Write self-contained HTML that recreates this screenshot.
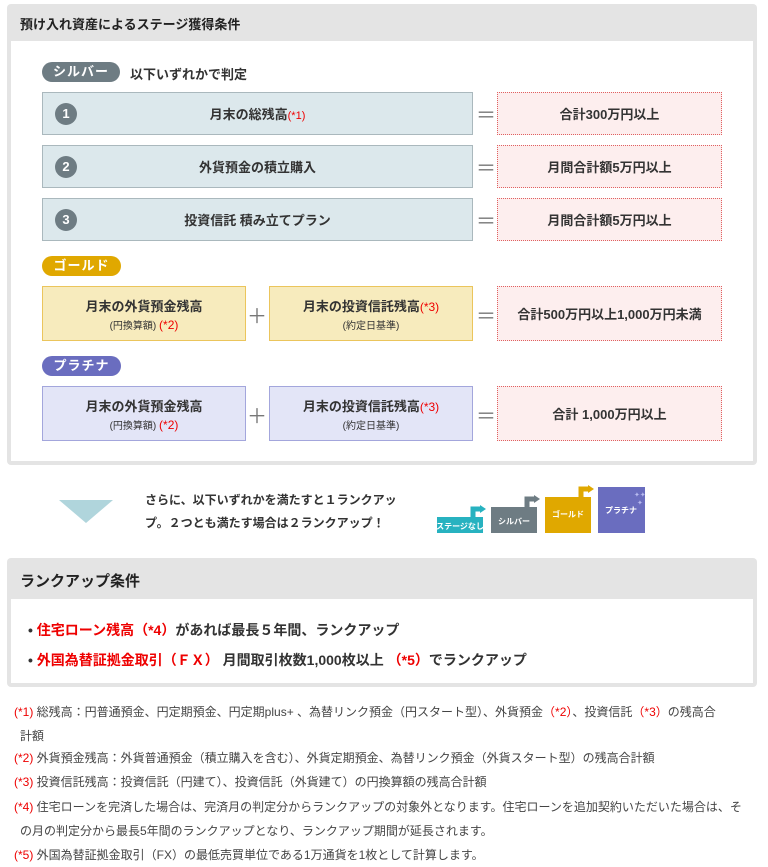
<!DOCTYPE html>
<html><head><meta charset="utf-8"><style>
*{margin:0;padding:0;box-sizing:border-box}
body{width:768px;height:864px;background:#fff;font-family:"Liberation Sans","Noto Sans CJK JP",sans-serif;color:#333;position:relative;overflow:hidden}
.a{position:absolute}
.panel{position:absolute;background:#e4e4e4;border-radius:4px}
.inner{position:absolute;background:#fff}
.pill{position:absolute;height:20px;border-radius:10px;color:#fff;font-size:13px;font-weight:bold;text-align:center;line-height:20px;letter-spacing:1px}
.box{position:absolute;display:flex;align-items:center;justify-content:center;flex-direction:column;font-size:13px;font-weight:bold;color:#333;text-align:center}
.s{background:#dce8ec;border:1px solid #aab8bd}
.g{background:#f7ebbd;border:1px solid #ebc55c}
.p{background:#e3e5f7;border:1px solid #a3a6dc}
.r{background:#fdeeee;border:1px dotted #e06060}
.num{position:absolute;left:12px;top:50%;margin-top:-11px;width:22px;height:22px;border-radius:11px;background:#6e7c83;color:#fff;font-size:13px;line-height:22px;text-align:center}
.red{color:#e00;font-weight:normal}
.sm{font-size:10px;font-weight:normal;margin-top:2px}
.op{position:absolute;font-size:20px;color:#777;width:20px;text-align:center}
.fn{position:absolute;left:14px;font-size:12px;color:#444;width:745px;line-height:24px}
.fn b{color:#e00;font-weight:normal}
</style></head><body>

<div class="panel" style="left:7px;top:4px;width:750px;height:461px"></div>
<div class="a" style="left:20px;top:14px;font-size:13px;font-weight:bold;color:#222">預け入れ資産によるステージ獲得条件</div>
<div class="inner" style="left:11px;top:41px;width:742px;height:420px"></div>

<div class="pill" style="left:42px;top:62px;width:78px;background:#6e7c83">シルバー</div>
<div class="a" style="left:130px;top:64px;font-size:13px;font-weight:bold;color:#333">以下いずれかで判定</div>

<div class="box s" style="left:42px;top:92px;width:431px;height:43px"><div class="num">1</div><div>月末の総残高<span class="red" style="font-size:11px">(*1)</span></div></div>
<div class="op" style="left:476px;top:99px">＝</div>
<div class="box r" style="left:497px;top:92px;width:225px;height:43px">合計300万円以上</div>

<div class="box s" style="left:42px;top:145px;width:431px;height:43px"><div class="num">2</div>外貨預金の積立購入</div>
<div class="op" style="left:476px;top:152px">＝</div>
<div class="box r" style="left:497px;top:145px;width:225px;height:43px">月間合計額5万円以上</div>

<div class="box s" style="left:42px;top:198px;width:431px;height:43px"><div class="num">3</div>投資信託 積み立てプラン</div>
<div class="op" style="left:476px;top:205px">＝</div>
<div class="box r" style="left:497px;top:198px;width:225px;height:43px">月間合計額5万円以上</div>

<div class="pill" style="left:42px;top:256px;width:79px;background:#e0a800">ゴールド</div>
<div class="box g" style="left:42px;top:286px;width:204px;height:55px"><div>月末の外貨預金残高</div><div class="sm">(円換算額) <span class="red" style="font-size:12px">(*2)</span></div></div>
<div class="op" style="left:247px;top:300px">＋</div>
<div class="box g" style="left:269px;top:286px;width:204px;height:55px"><div>月末の投資信託残高<span class="red" style="font-size:12px">(*3)</span></div><div class="sm">(約定日基準)</div></div>
<div class="op" style="left:476px;top:300px">＝</div>
<div class="box r" style="left:497px;top:286px;width:225px;height:55px">合計500万円以上1,000万円未満</div>

<div class="pill" style="left:42px;top:356px;width:79px;background:#6a6dbf">プラチナ</div>
<div class="box p" style="left:42px;top:386px;width:204px;height:55px"><div>月末の外貨預金残高</div><div class="sm">(円換算額) <span class="red" style="font-size:12px">(*2)</span></div></div>
<div class="op" style="left:247px;top:400px">＋</div>
<div class="box p" style="left:269px;top:386px;width:204px;height:55px"><div>月末の投資信託残高<span class="red" style="font-size:12px">(*3)</span></div><div class="sm">(約定日基準)</div></div>
<div class="op" style="left:476px;top:400px">＝</div>
<div class="box r" style="left:497px;top:386px;width:225px;height:55px">合計 1,000万円以上</div>

<svg class="a" style="left:0;top:480px" width="768" height="60">
<polygon points="59,20 113,20 86,43" fill="#b0d5dc"/>
<rect x="437" y="37" width="46" height="16" fill="#27b2c0"/>
<path d="M473 37 V29 H481" stroke="#27b2c0" stroke-width="5" fill="none"/><polygon points="480,25 486,29 480,33" fill="#27b2c0"/>
<rect x="491" y="27" width="46" height="26" fill="#6e7c83"/>
<path d="M527 27 V19 H535" stroke="#6e7c83" stroke-width="5" fill="none"/><polygon points="534,15 540,19 534,23" fill="#6e7c83"/>
<rect x="545" y="17" width="46" height="36" fill="#e0a800"/>
<path d="M581 17 V9 H589" stroke="#e0a800" stroke-width="5" fill="none"/><polygon points="588,5 594,9 588,13" fill="#e0a800"/>
<rect x="598" y="7" width="47" height="46" fill="#6a6dbf"/>
<text x="634" y="17" fill="#b8bbf0" font-size="7">✦✦</text><text x="637" y="25" fill="#b8bbf0" font-size="7">✦</text>
<g font-family="Liberation Sans,Noto Sans CJK JP,sans-serif" font-size="8" font-weight="bold" fill="#fff" text-anchor="middle">
<text x="460" y="49">ステージなし</text><text x="514" y="44">シルバー</text><text x="568" y="37">ゴールド</text><text x="621" y="33">プラチナ</text></g>
</svg>
<div class="a" style="left:145px;top:489px;font-size:12px;font-weight:bold;line-height:23px;color:#333">さらに、以下いずれかを満たすと１ランクアッ<br>プ。２つとも満たす場合は２ランクアップ！</div>

<div class="panel" style="left:7px;top:558px;width:750px;height:129px"></div>
<div class="a" style="left:20px;top:570px;font-size:15px;font-weight:bold;color:#222">ランクアップ条件</div>
<div class="inner" style="left:11px;top:599px;width:742px;height:84px"></div>
<div class="a" style="left:28px;top:615px;font-size:14px;font-weight:bold;color:#333;line-height:30px">
<div>• <span style="color:#e00">住宅ローン残高（*4）</span>があれば最長５年間、ランクアップ</div>
<div>• <span style="color:#e00">外国為替証拠金取引（ＦＸ）</span> 月間取引枚数1,000枚以上 <span style="color:#e00">（*5）</span>でランクアップ</div>
</div>

<div class="fn" style="top:700px"><b>(*1)</b> 総残高：円普通預金、円定期預金、円定期plus+ 、為替リンク預金（円スタート型）、外貨預金<b>（*2）</b>、投資信託<b>（*3）</b>の残高合<br><span style="padding-left:6px">計額</span></div>
<div class="fn" style="top:746px"><b>(*2)</b> 外貨預金残高：外貨普通預金（積立購入を含む）、外貨定期預金、為替リンク預金（外貨スタート型）の残高合計額</div>
<div class="fn" style="top:770px"><b>(*3)</b> 投資信託残高：投資信託（円建て）、投資信託（外貨建て）の円換算額の残高合計額</div>
<div class="fn" style="top:795px"><b>(*4)</b> 住宅ローンを完済した場合は、完済月の判定分からランクアップの対象外となります。住宅ローンを追加契約いただいた場合は、そ<br><span style="padding-left:6px">の月の判定分から最長5年間のランクアップとなり、ランクアップ期間が延長されます。</span></div>
<div class="fn" style="top:843px"><b>(*5)</b> 外国為替証拠金取引（FX）の最低売買単位である1万通貨を1枚として計算します。</div>
</body></html>
